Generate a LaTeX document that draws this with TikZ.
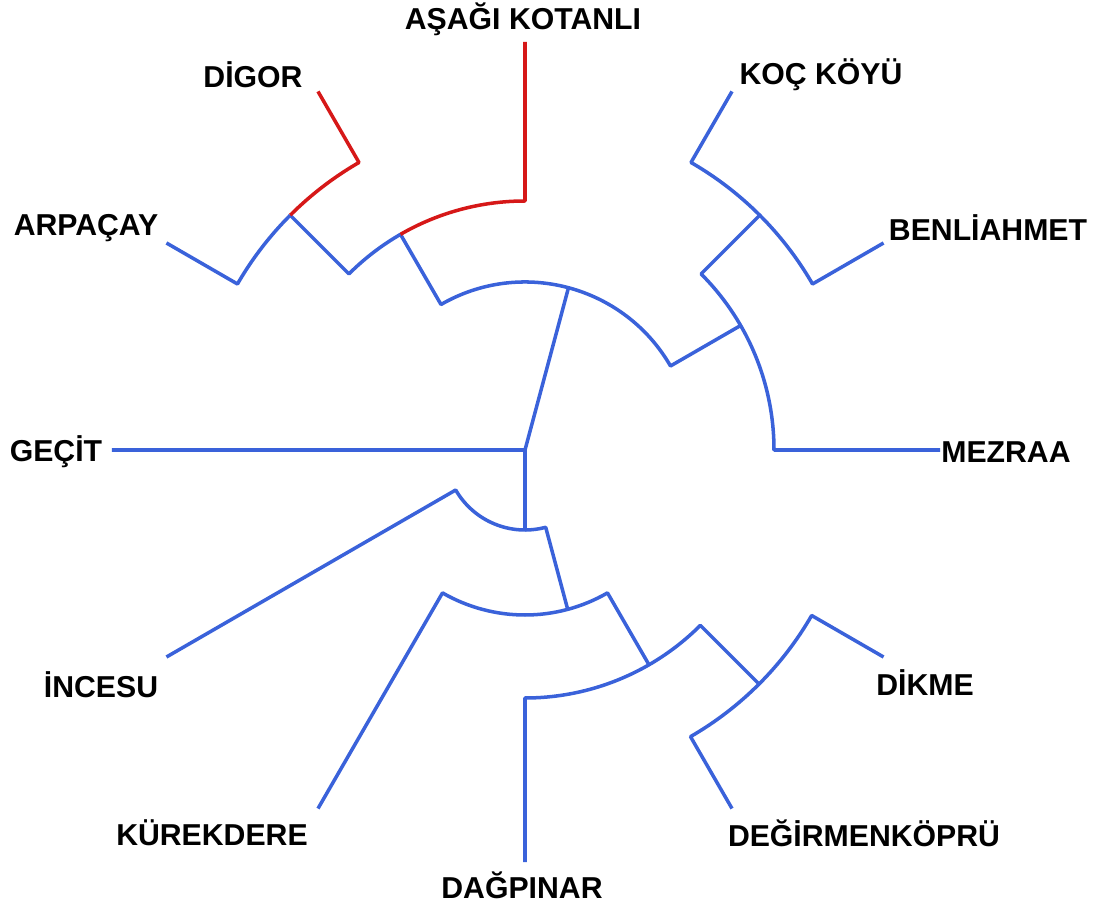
\documentclass[tikz,border=0pt]{standalone}
\usepackage{fontspec}
\setmainfont{Liberation Sans}
\usetikzlibrary{positioning}

\definecolor{treeblue}{RGB}{58,98,218}
\definecolor{treered}{RGB}{214,24,24}

\begin{document}
\begin{tikzpicture}[
            x = 0.02cm, y = 0.02cm, % one unit is one pixel
            line width = 2pt, % branch thickness
            line join = round
            ,
            branch/.style = {draw = treeblue},
            hilite/.style = {draw = treered} % the red path
        ]

        \tikzstyle{every node}=[
            font = \fontsize{17.2}{19}\selectfont\bfseries,
            inner sep = 0pt
        ]

        \useasboundingbox (-525,-458) rectangle (573,450);

        % junctions
        \coordinate (O) at (0,0);
        \coordinate (T) at (75:168);
        \coordinate (TL) at (120:168);
        \coordinate (TR) at (30:168);
        \coordinate (L) at (120:249);
        \coordinate (La) at (135:249);
        \coordinate (LL) at (135:332);
        \coordinate (LLa) at (150:332);
        \coordinate (R) at (30:249);
        \coordinate (Ra) at (45:249);
        \coordinate (RR) at (45:332);
        \coordinate (RRa) at (60:332);
        \coordinate (B) at (-90:80);
        \coordinate (Ba) at (-150:80);
        \coordinate (B2) at (-75:165);
        \coordinate (B2a) at (-120:165);
        \coordinate (B3) at (-60:248);
        \coordinate (B3a) at (-90:248);
        \coordinate (B4) at (-45:331);
        \coordinate (B4a) at (-60:331);

        % leaf ends
        \coordinate (kotanliEnd) at (90:408);
        \coordinate (digorEnd) at (120:414);
        \coordinate (arpacayEnd) at (150:414);
        \coordinate (gecitEnd) at (180:413);
        \coordinate (kocEnd) at (60:414);
        \coordinate (benliEnd) at (30:414);
        \coordinate (mezraaEnd) at (0:415);
        \coordinate (incesuEnd) at (-150:414);
        \coordinate (kurekEnd) at (-120:414);
        \coordinate (dagEnd) at (-90:412);
        \coordinate (degEnd) at (-60:414);
        \coordinate (dikmeEnd) at (-30:414);

        \node (Kotanli) at (-2,431) {AŞAĞI KOTANLI};
        \node (Digor) at (-272,375) {DİGOR};
        \node (Koc) at (296,375) {KOÇ KÖYÜ};
        \node (Arpacay) at (-439,222) {ARPAÇAY};
        \node (Benli) at (463,222) {BENLİAHMET};
        \node (Gecit) at (-469,-2) {GEÇİT};
        \node (Mezraa) at (481,-2) {MEZRAA};
        \node (Incesu) at (-424,-235) {İNCESU};
        \node (Dikme) at (400,-233) {DİKME};
        \node (Kurek) at (-313,-383) {KÜREKDERE};
        \node (Degirmen) at (339,-383) {DEĞİRMENKÖPRÜ};
        \node (Dagpinar) at (-3,-435) {DAĞPINAR};

        % upper half
        \draw[branch] (gecitEnd) -- (O) -- (T);
        \draw[branch] (L) -- (TL) arc[start angle=120, end angle=30, radius=168] -- (R);
        \draw[branch] (LL) -- (La) arc[start angle=135, end angle=120, radius=249];
        \draw[hilite] (L) arc[start angle=120, end angle=90, radius=249] -- (kotanliEnd);
        \draw[branch] (arpacayEnd) -- (LLa) arc[start angle=150, end angle=135, radius=332];
        \draw[hilite] (LL) arc[start angle=135, end angle=120, radius=332] -- (digorEnd);
        \draw[branch] (RR) -- (Ra) arc[start angle=45, end angle=0, radius=249] -- (mezraaEnd);
        \draw[branch] (kocEnd) -- (RRa) arc[start angle=60, end angle=30, radius=332] -- (benliEnd);

        % lower half
        \draw[branch] (O) -- (B);
        \draw[branch] (incesuEnd) -- (Ba) arc[start angle=-150, end angle=-75, radius=80] -- (B2);
        \draw[branch] (kurekEnd) -- (B2a) arc[start angle=-120, end angle=-60, radius=165] -- (B3);
        \draw[branch] (dagEnd) -- (B3a) arc[start angle=-90, end angle=-45, radius=248] -- (B4);
        \draw[branch] (degEnd) -- (B4a) arc[start angle=-60, end angle=-30, radius=331] -- (dikmeEnd);

    \end{tikzpicture}
\end{document}
